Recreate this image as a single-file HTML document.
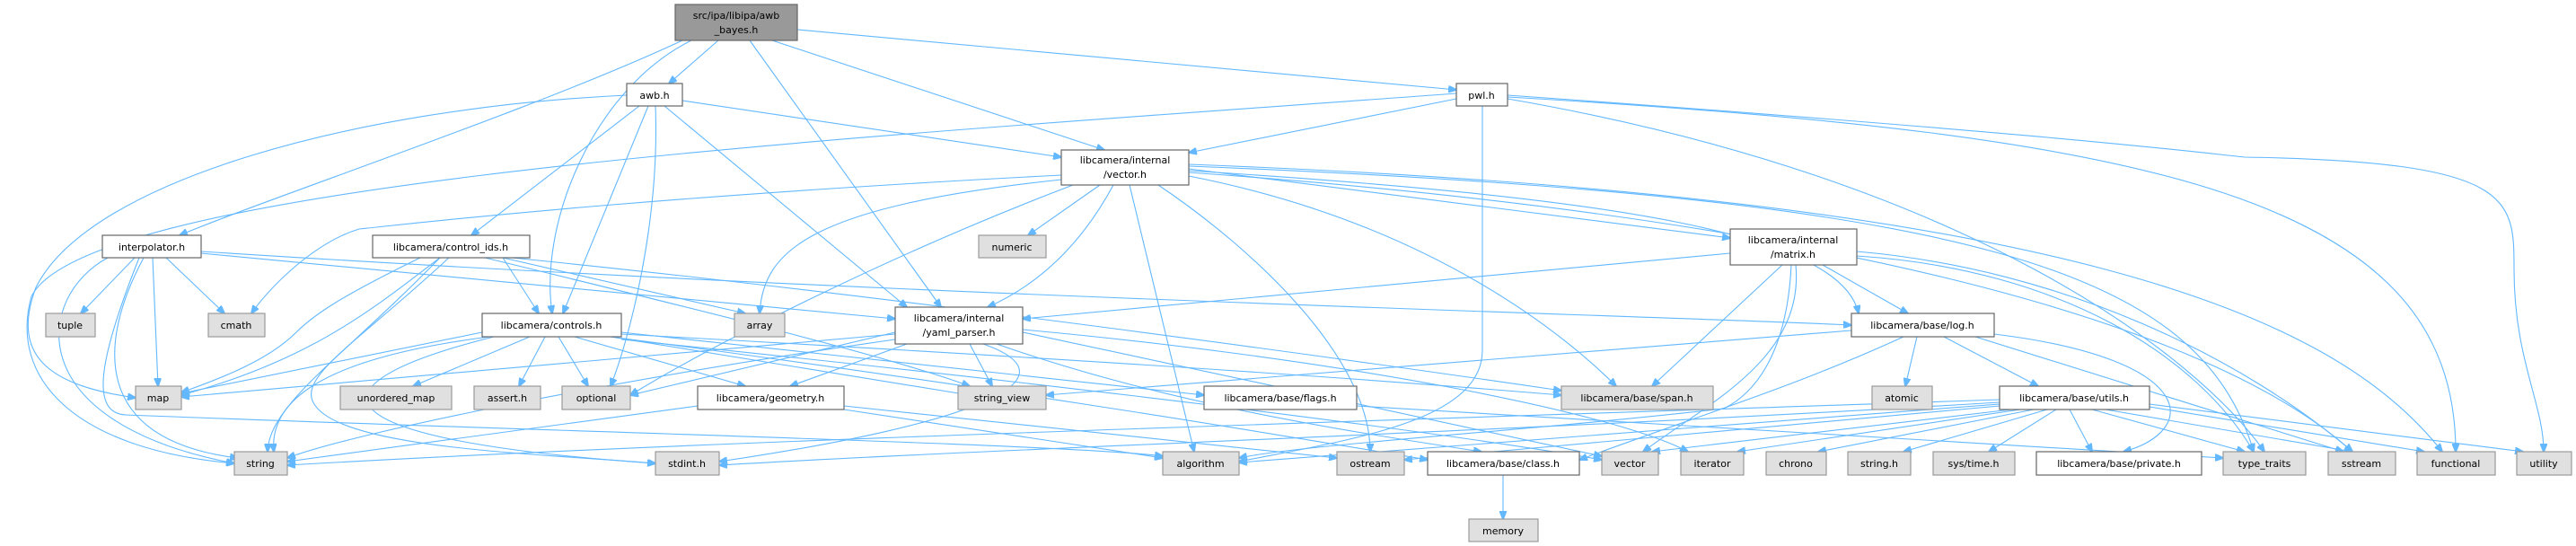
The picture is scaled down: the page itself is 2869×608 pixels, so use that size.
<!DOCTYPE html>
<html><head><meta charset="utf-8"><style>
html,body{margin:0;padding:0;background:#fff;}
svg{display:block;}
text{font-family:"DejaVu Sans","Liberation Sans",sans-serif;font-size:11px;fill:#000;text-anchor:middle;}
.w{fill:#fff;stroke:#666;stroke-width:1.2;}
.g{fill:#e0e0e0;stroke:#999;stroke-width:1.2;}
.r{fill:#999;stroke:#666;stroke-width:1.2;}
path{fill:none;stroke:#63b8ff;stroke-width:1.1;marker-end:url(#a);}
</style></head><body>
<svg width="2869" height="608" viewBox="0 0 2869 608" xmlns="http://www.w3.org/2000/svg">
<defs><marker id="a" markerWidth="10" markerHeight="8" refX="9" refY="4" orient="auto" markerUnits="userSpaceOnUse"><path d="M0,0 L10,4 L0,8 z" style="fill:#63b8ff;stroke:#63b8ff;marker-end:none"/></marker></defs>
<g>
<!-- root -->
<path d="M800,45 L745,93"/>
<path d="M888,33 L1622,100"/>
<path d="M760,45 C600,120 300,220 200,262"/>
<path d="M770,45 C660,100 600,250 615,349"/>
<path d="M860,45 L1230,167"/>
<path d="M835,45 L1048,342"/>
<!-- awb -->
<path d="M698,106 C400,120 100,200 40,320 C10,400 60,430 151,443"/>
<path d="M712,118 L525,262"/>
<path d="M722,118 L627,349"/>
<path d="M730,118 C735,250 700,380 680,430"/>
<path d="M740,118 L1010,342"/>
<path d="M760,112 L1182,175"/>
<!-- pwl -->
<path d="M1622,110 L1324,170"/>
<path d="M1622,104 C1000,150 100,200 35,330 C10,420 80,500 261,516"/>
<path d="M1651,118 L1651,390 C1651,470 1500,490 1380,514"/>
<path d="M1679,108 C2400,150 2735,220 2735,503"/>
<path d="M1679,106 C2300,150 2450,170 2500,175 C2800,180 2800,220 2800,300 C2800,400 2833,450 2833,503"/>
<path d="M1679,110 C2200,200 2450,400 2522,503"/>
<!-- interpolator -->
<path d="M150,287 L90,349"/>
<path d="M185,287 L250,349"/>
<path d="M170,287 L176,430"/>
<path d="M120,287 C40,330 20,470 261,516"/>
<path d="M160,287 C110,380 100,490 265,510"/>
<path d="M155,287 C110,400 100,460 140,462 C600,480 1200,495 1295,508"/>
<path d="M224,280 C1000,330 1800,350 2062,362"/>
<path d="M224,282 L997,355"/>
<!-- control_ids -->
<path d="M560,287 L600,349"/>
<path d="M468,287 C380,330 350,350 330,370 C300,400 250,420 202,437"/>
<path d="M490,287 C420,340 350,400 202,440"/>
<path d="M490,287 C380,400 300,450 298,503"/>
<path d="M500,287 C400,380 330,420 350,450 C380,500 600,505 730,516"/>
<path d="M560,287 L830,349"/>
<path d="M540,287 C800,350 1000,400 1080,430"/>
<path d="M570,287 C1000,330 1500,400 1739,435"/>
<!-- controls -->
<path d="M537,370 L202,438"/>
<path d="M590,375 L460,430"/>
<path d="M607,375 L578,430"/>
<path d="M622,375 L655,430"/>
<path d="M545,375 C350,400 300,450 305,503"/>
<path d="M550,375 C330,430 350,490 730,516"/>
<path d="M640,375 L830,430"/>
<path d="M680,375 L1080,440"/>
<path d="M692,370 L1341,440"/>
<path d="M692,372 C1200,400 1500,420 1739,440"/>
<path d="M692,378 C1200,430 1600,480 1784,512"/>
<path d="M680,375 C1100,430 1400,480 1590,512"/>
<!-- vector.h -->
<path d="M1182,195 C700,220 450,250 400,255 C350,270 300,320 280,349"/>
<path d="M1182,200 C900,230 850,280 846,349"/>
<path d="M1225,206 L1145,262"/>
<path d="M1240,206 C1200,280 1150,320 1100,342"/>
<path d="M1258,206 L1330,503"/>
<path d="M1290,206 C1400,280 1526,400 1526,503"/>
<path d="M1195,206 C1000,280 800,380 702,440"/>
<path d="M1324,196 C1600,250 1750,380 1800,430"/>
<path d="M1324,190 C1800,220 2050,260 2070,349"/>
<path d="M1324,188 L1927,265"/>
<path d="M1324,185 C2200,220 2450,300 2510,503"/>
<path d="M1324,183 C2300,220 2600,350 2720,503"/>
<path d="M1324,192 C2000,240 2450,350 2620,503"/>
<!-- matrix -->
<path d="M1927,282 L1139,355"/>
<path d="M1985,295 L1840,430"/>
<path d="M2030,295 L2125,349"/>
<path d="M2000,295 C2010,400 1900,450 1830,503"/>
<path d="M1995,295 C1990,400 1950,440 1920,455 C1700,480 1450,495 1380,510"/>
<path d="M2068,285 C2300,300 2450,400 2510,503"/>
<path d="M2068,280 C2300,300 2500,400 2620,503"/>
<!-- yaml -->
<path d="M997,372 L202,442"/>
<path d="M997,378 C700,420 400,480 320,510"/>
<path d="M997,370 L702,440"/>
<path d="M1080,383 L1105,430"/>
<path d="M1010,383 L880,430"/>
<path d="M1095,383 C1200,420 1100,470 801,514"/>
<path d="M1139,370 L1784,508"/>
<path d="M1139,367 C1500,400 1800,460 1880,503"/>
<path d="M1110,383 C1300,450 1500,480 1650,503"/>
<!-- geometry -->
<path d="M940,456 L1295,510"/>
<path d="M777,452 L320,514"/>
<path d="M940,452 L1489,510"/>
<path d="M1511,452 L2476,510"/>
<!-- log -->
<path d="M2135,375 L2122,430"/>
<path d="M2165,375 L2270,430"/>
<path d="M2062,368 L1165,440"/>
<path d="M2200,375 L2610,503"/>
<path d="M2221,372 C2450,400 2450,480 2365,503"/>
<path d="M2120,375 C2000,430 1900,460 1759,512"/>
<!-- utils -->
<path d="M2227,445 C1500,470 800,490 320,518"/>
<path d="M2227,448 C1700,480 1100,500 801,518"/>
<path d="M2227,450 L1380,515"/>
<path d="M2227,452 L1564,512"/>
<path d="M2240,456 L1840,503"/>
<path d="M2250,456 L1935,503"/>
<path d="M2265,456 L2025,503"/>
<path d="M2280,456 L2120,503"/>
<path d="M2290,456 L2215,503"/>
<path d="M2305,456 L2330,503"/>
<path d="M2330,456 L2500,503"/>
<path d="M2345,456 L2620,503"/>
<path d="M2394,453 L2700,503"/>
<path d="M2394,450 L2810,503"/>
<path d="M1674,529 L1674,578"/>
</g>
<g>
<rect class="r" x="752" y="5" width="136" height="40"/><text x="820" y="21">src/ipa/libipa/awb</text><text x="820" y="37">_bayes.h</text>
<rect class="w" x="698" y="93" width="62" height="25"/><text x="729" y="110">awb.h</text>
<rect class="w" x="1622" y="93" width="57" height="25"/><text x="1650" y="110">pwl.h</text>
<rect class="w" x="1182" y="167" width="142" height="39"/><text x="1253" y="182">libcamera/internal</text><text x="1253" y="198">/vector.h</text>
<rect class="w" x="114" y="262" width="110" height="25"/><text x="169" y="279">interpolator.h</text>
<rect class="w" x="415" y="262" width="175" height="25"/><text x="502" y="279">libcamera/control_ids.h</text>
<rect class="g" x="1090" y="262" width="75" height="25"/><text x="1127" y="279">numeric</text>
<rect class="w" x="1927" y="255" width="141" height="40"/><text x="1997" y="271">libcamera/internal</text><text x="1997" y="287">/matrix.h</text>
<rect class="g" x="51" y="349" width="55" height="26"/><text x="78" y="366">tuple</text>
<rect class="g" x="232" y="349" width="63" height="26"/><text x="263" y="366">cmath</text>
<rect class="w" x="537" y="349" width="155" height="26"/><text x="614" y="366">libcamera/controls.h</text>
<rect class="g" x="818" y="349" width="56" height="26"/><text x="846" y="366">array</text>
<rect class="w" x="997" y="342" width="142" height="41"/><text x="1068" y="358">libcamera/internal</text><text x="1068" y="374">/yaml_parser.h</text>
<rect class="w" x="2062" y="349" width="159" height="26"/><text x="2141" y="366">libcamera/base/log.h</text>
<rect class="g" x="151" y="430" width="51" height="26"/><text x="176" y="447">map</text>
<rect class="g" x="379" y="430" width="124" height="26"/><text x="441" y="447">unordered_map</text>
<rect class="g" x="528" y="430" width="74" height="26"/><text x="565" y="447">assert.h</text>
<rect class="g" x="626" y="430" width="76" height="26"/><text x="664" y="447">optional</text>
<rect class="w" x="777" y="430" width="163" height="26"/><text x="858" y="447">libcamera/geometry.h</text>
<rect class="g" x="1067" y="430" width="98" height="26"/><text x="1116" y="447">string_view</text>
<rect class="w" x="1341" y="430" width="170" height="26"/><text x="1426" y="447">libcamera/base/flags.h</text>
<rect class="g" x="1739" y="430" width="169" height="26"/><text x="1823" y="447">libcamera/base/span.h</text>
<rect class="g" x="2085" y="430" width="67" height="26"/><text x="2118" y="447">atomic</text>
<rect class="w" x="2227" y="430" width="167" height="26"/><text x="2310" y="447">libcamera/base/utils.h</text>
<rect class="g" x="261" y="503" width="59" height="26"/><text x="290" y="520">string</text>
<rect class="g" x="730" y="503" width="71" height="26"/><text x="765" y="520">stdint.h</text>
<rect class="g" x="1295" y="503" width="85" height="26"/><text x="1337" y="520">algorithm</text>
<rect class="g" x="1489" y="503" width="75" height="26"/><text x="1526" y="520">ostream</text>
<rect class="w" x="1590" y="503" width="169" height="26"/><text x="1674" y="520">libcamera/base/class.h</text>
<rect class="g" x="1784" y="503" width="63" height="26"/><text x="1815" y="520">vector</text>
<rect class="g" x="1872" y="503" width="70" height="26"/><text x="1907" y="520">iterator</text>
<rect class="g" x="1967" y="503" width="67" height="26"/><text x="2000" y="520">chrono</text>
<rect class="g" x="2058" y="503" width="70" height="26"/><text x="2093" y="520">string.h</text>
<rect class="g" x="2153" y="503" width="91" height="26"/><text x="2198" y="520">sys/time.h</text>
<rect class="w" x="2268" y="503" width="184" height="26"/><text x="2360" y="520">libcamera/base/private.h</text>
<rect class="g" x="2476" y="503" width="92" height="26"/><text x="2522" y="520">type_traits</text>
<rect class="g" x="2593" y="503" width="75" height="26"/><text x="2630" y="520">sstream</text>
<rect class="g" x="2692" y="503" width="87" height="26"/><text x="2735" y="520">functional</text>
<rect class="g" x="2803" y="503" width="61" height="26"/><text x="2833" y="520">utility</text>
<rect class="g" x="1636" y="578" width="77" height="25"/><text x="1674" y="595">memory</text>
</g>
</svg>
</body></html>
